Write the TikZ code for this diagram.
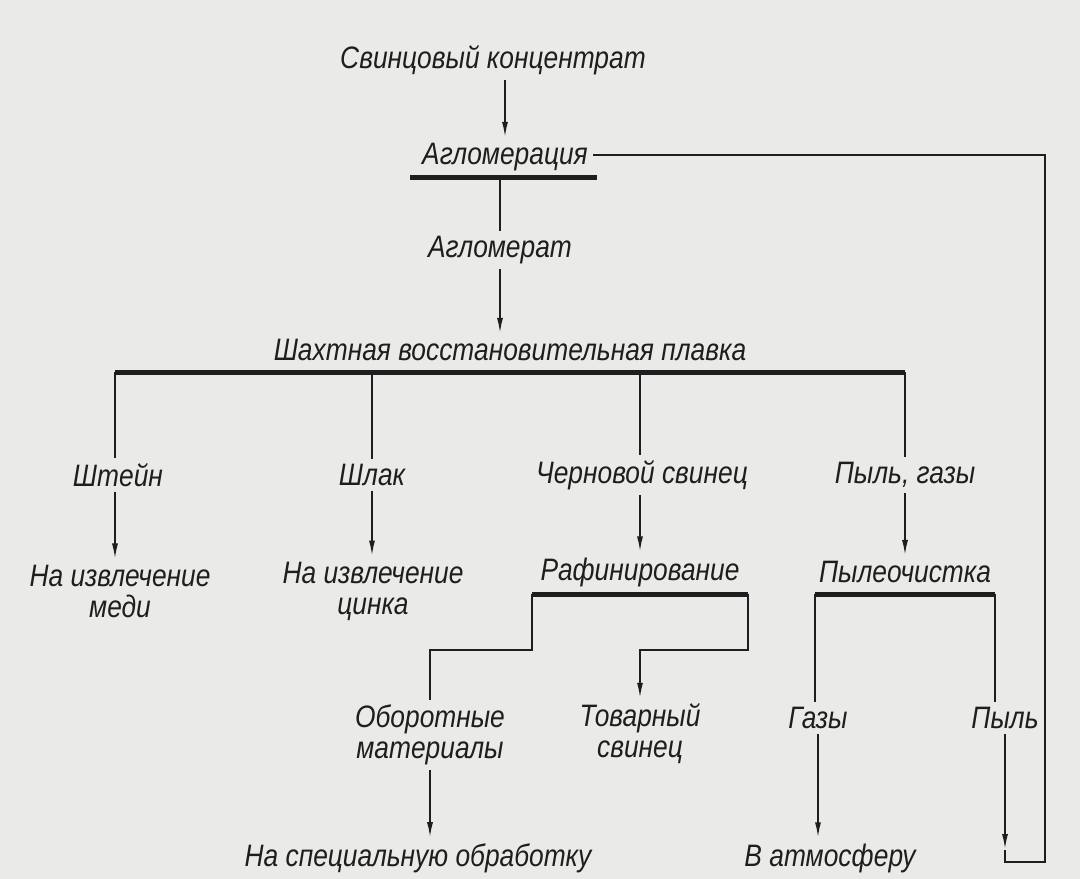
\documentclass[tikz,border=0pt]{standalone}
\usepackage{fontspec}
\setmainfont{Liberation Sans}[FakeStretch=0.85]
\usetikzlibrary{arrows.meta}
\definecolor{paper}{RGB}{234,234,232}
\definecolor{ink}{RGB}{30,30,30}
\tikzset{
  lbl/.style={font=\fontsize{31}{31}\selectfont\itshape, text=ink, inner sep=5pt, align=center},
  thin/.style={draw=ink, line width=2pt},
  arr/.style={thin, -{Latex[length=16pt,width=6pt]}},
  bar/.style={draw=ink, line width=5pt}
}
\begin{document}
\begin{tikzpicture}[x=1pt,y=-1pt]
\fill[paper] (0,0) rectangle (1080,879);
\useasboundingbox (0,0) rectangle (1080,879);
% nodes
\node[lbl] (conc) at (493,60) {Свинцовый концентрат};
\node[lbl] (aglo) at (505,157) {Агломерация};
\node[lbl] (aglom) at (500,250) {Агломерат};
\node[lbl] (shakh) at (510,350) {Шахтная восстановительная плавка};
\node[lbl] (shtein) at (118,475) {Штейн};
\node[lbl] (shlak) at (372,475) {Шлак};
\node[lbl] (cherno) at (642,475) {Черновой свинец};
\node[lbl] (pylgaz) at (905,475) {Пыль, газы};
\node[lbl] (med) at (120,591) {На извлечение\\меди};
\node[lbl] (cink) at (373,591) {На извлечение\\цинка};
\node[lbl] (raf) at (640,572) {Рафинирование};
\node[lbl] (pyloch) at (905,572) {Пылеочистка};
\node[lbl] (obor) at (430,735) {Оборотные\\материалы};
\node[lbl] (tovar) at (640,734) {Товарный\\свинец};
\node[lbl] (gazy) at (818,718) {Газы};
\node[lbl] (pyl) at (1005,718) {Пыль};
\node[lbl] (spec) at (418,858) {На специальную обработку};
\node[lbl] (atm) at (830,858) {В атмосферу};
% coordinates
\coordinate (a1) at (410,177); \coordinate (a2) at (597,177);
\coordinate (b1) at (115,372); \coordinate (b2) at (372,372);
\coordinate (b3) at (640,372); \coordinate (b4) at (905,372);
\coordinate (r1) at (532,594); \coordinate (r2) at (748,594);
\coordinate (r1d) at (532,650); \coordinate (r2d) at (748,650);
\coordinate (p1) at (815,594); \coordinate (p2) at (995,594);
\coordinate (pylEnd) at (1005,850);
\coordinate (lBL) at (1005,862); \coordinate (lBR) at (1045,862);
\coordinate (lTR) at (1045,155);
% connectors
\draw[arr] (conc.south -| aglo) -- (aglo.north);
\draw[bar] (a1) -- (a2);
\draw[thin] (a1 -| aglom) -- (aglom.north);
\draw[arr] (aglom.south) -- (shakh.north -| aglom);
\draw[bar] (b1) -- (b4);
\draw[thin] (b1) -- (shtein.north -| b1);
\draw[thin] (b2) -- (shlak.north);
\draw[thin] (b3) -- (cherno.north -| b3);
\draw[thin] (b4) -- (pylgaz.north);
\draw[arr] (shtein.south -| b1) -- (med.north -| b1);
\draw[arr] (shlak.south) -- (cink.north -| shlak);
\draw[arr] (cherno.south -| raf) -- (raf.north);
\draw[arr] (pylgaz.south) -- (pyloch.north);
\draw[bar] (r1) -- (r2);
\draw[thin] (r1) -- (r1d) -- (r1d -| obor) -- (obor.north);
\draw[arr] (r2) -- (r2d) -- (r2d -| tovar) -- (tovar.north);
\draw[bar] (p1) -- (p2);
\draw[thin] (p1) -- (gazy.north -| p1);
\draw[thin] (p2) -- (pyl.north -| p2);
\draw[arr] (obor.south) -- (spec.north -| obor);
\draw[arr] (gazy.south) -- (atm.north -| gazy);
\draw[arr] (pyl.south) -- (pylEnd);
\draw[thin] (pylEnd) -- (lBL) -- (lBR) -- (lTR) -- (aglo.east |- lTR);
\end{tikzpicture}
\end{document}
